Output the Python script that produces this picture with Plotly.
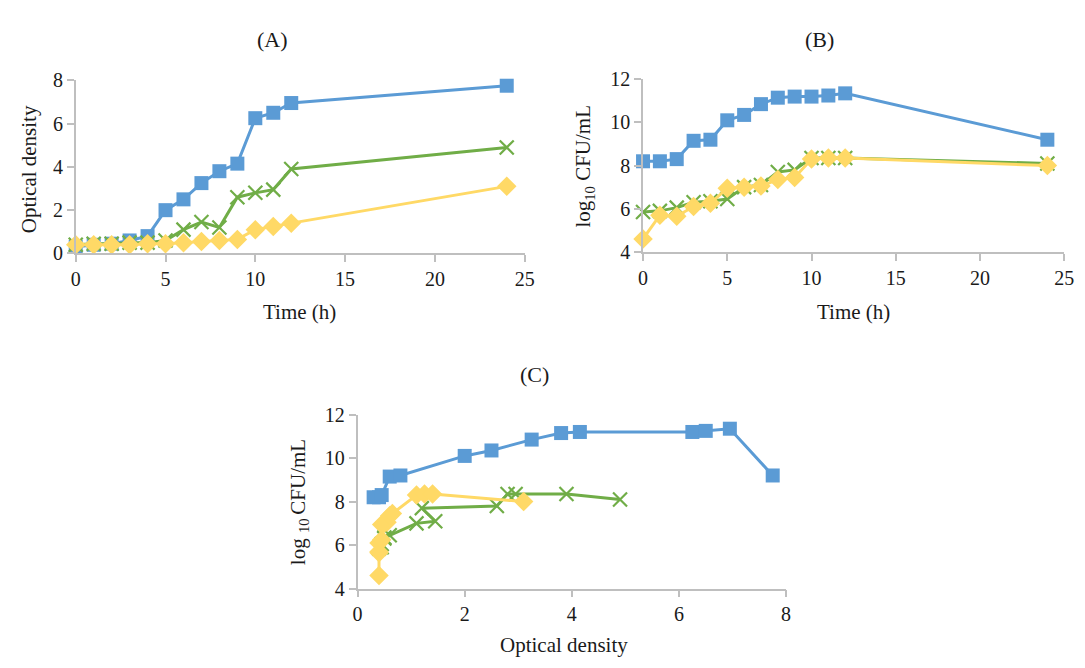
import plotly.graph_objects as go

time_h = [0, 1, 2, 3, 4, 5, 6, 7, 8, 9, 10, 11, 12, 24]

od_blue = [0.3, 0.4, 0.45, 0.6, 0.8, 2.0, 2.5, 3.25, 3.8, 4.15, 6.25, 6.5, 6.95, 7.75]
od_green = [0.4, 0.45, 0.45, 0.5, 0.5, 0.6, 1.1, 1.45, 1.2, 2.6, 2.8, 2.95, 3.9, 4.9]
od_yellow = [0.4, 0.4, 0.4, 0.4, 0.45, 0.45, 0.5, 0.55, 0.6, 0.65, 1.1, 1.25, 1.4, 3.1]

cfu_blue = [8.2, 8.2, 8.3, 9.15, 9.2, 10.1, 10.35, 10.85, 11.15, 11.2, 11.2, 11.25, 11.35, 9.2]
cfu_green = [5.85, 5.9, 6.05, 6.3, 6.35, 6.45, 7.0, 7.1, 7.7, 7.8, 8.35, 8.35, 8.35, 8.1]
cfu_yellow = [4.6, 5.7, 5.65, 6.1, 6.25, 6.95, 7.0, 7.05, 7.35, 7.45, 8.3, 8.35, 8.35, 8.0]

panel_titles = ["(A)", "(B)", "(C)"]

BLUE = "#5B9BD5"
GREEN = "#70AD47"
YELLOW = "#FFD966"
FONT = "Liberation Serif, Times New Roman, serif"
TXT = "#1a1a1a"

fig = go.Figure()

STYLES = [(BLUE, "square", 14), (GREEN, "x-thin", 14), (YELLOW, "diamond", 15)]

def add_panel(xs_list, ys_list, xa, ya):
    for xs, ys, (col, sym, sz) in zip(xs_list, ys_list, STYLES):
        mk = dict(symbol=sym, size=sz, color=col)
        if sym == "x-thin":
            mk["line"] = dict(color=col, width=2.2)
        fig.add_trace(go.Scatter(x=xs, y=ys, xaxis=xa, yaxis=ya, mode="lines+markers",
                                 line=dict(color=col, width=3), marker=mk,
                                 cliponaxis=False, showlegend=False))

add_panel([time_h] * 3, [od_blue, od_green, od_yellow], "x", "y")
add_panel([time_h] * 3, [cfu_blue, cfu_green, cfu_yellow], "x2", "y2")
add_panel([od_blue, od_green, od_yellow], [cfu_blue, cfu_green, cfu_yellow], "x3", "y3")

def axis(**kw):
    d = dict(showline=True, linecolor="#BFBFBF", linewidth=1.5, ticks="outside",
             tickcolor="#BFBFBF", ticklen=7, tickwidth=1.5, showgrid=False, zeroline=False,
             tickfont=dict(family=FONT, size=20, color=TXT))
    d.update(kw)
    return d

fig.update_layout(
    width=1085, height=668, margin=dict(l=0, r=0, t=0, b=0),
    paper_bgcolor="white", plot_bgcolor="white",
    font=dict(family=FONT, color=TXT),
    xaxis=axis(domain=[0.0661, 0.4857], range=[0, 25], dtick=5, anchor="y"),
    yaxis=axis(domain=[0.6247, 0.8927], range=[0, 8], dtick=2, anchor="x"),
    xaxis2=axis(domain=[0.5963, 0.9899], range=[0, 25], dtick=5, anchor="y2"),
    yaxis2=axis(domain=[0.6272, 0.8942], range=[4, 12], dtick=2, anchor="x2"),
    xaxis3=axis(domain=[0.3295, 0.7300], range=[0, 8], dtick=2, anchor="y3"),
    yaxis3=axis(domain=[0.1058, 0.3753], range=[4, 12], dtick=2, anchor="x3"),
)

ann = []
def txt(x, y, s, size=21, angle=0):
    ann.append(dict(x=x, y=y, xref="paper", yref="paper", text=s, showarrow=False,
                    textangle=angle, xanchor="center", yanchor="middle",
                    font=dict(family=FONT, size=size, color=TXT)))

W, H = 1085.0, 668.0
txt(271 / W, 1 - 29 / H, panel_titles[0], 22)
txt(826 / W, 1 - 29 / H, panel_titles[1], 22)
txt(537 / W, 1 - 376 / H, panel_titles[2], 22)
txt(299 / W, 1 - 311 / H, "Time (h)")
txt(860 / W, 1 - 311 / H, "Time (h)")
txt(567 / W, 1 - 656 / H, "Optical density")
txt(24 / W, 1 - 164 / H, "Optical density", angle=-90)
txt(587 / W, 1 - 160 / H, "log<sub>10</sub> CFU/mL", angle=-90)
txt(298 / W, 1 - 508 / H, "log <sub>10 </sub>CFU/mL", angle=-90)
fig.update_layout(annotations=ann)

fig.write_html("out.html")
